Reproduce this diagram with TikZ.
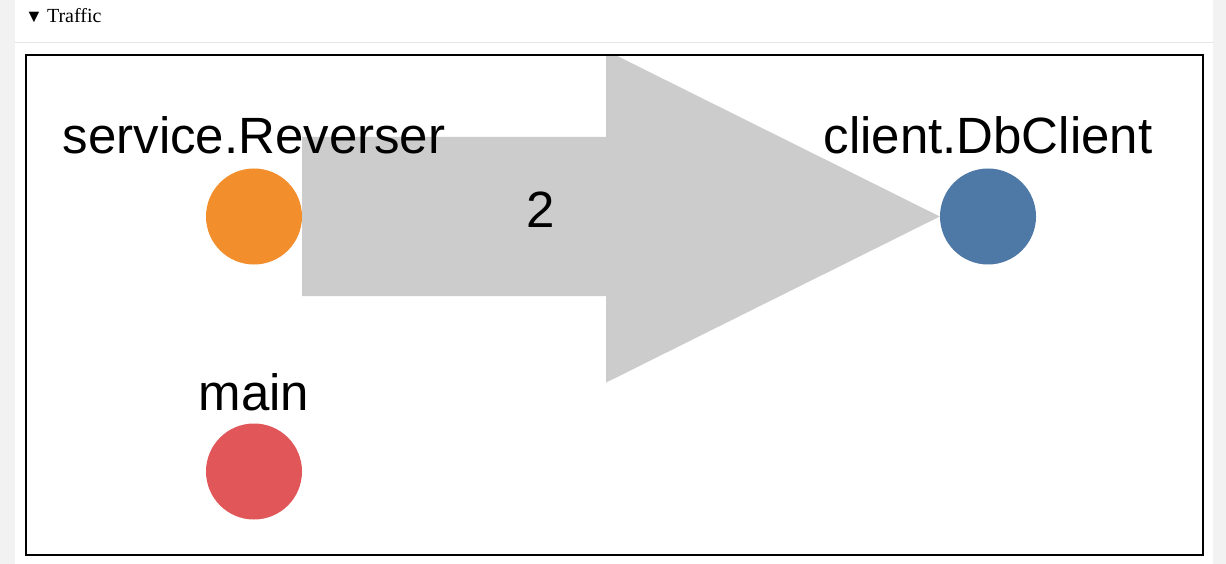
\documentclass[tikz,border=0pt]{standalone}
\usepackage{fontspec}
\setmainfont{Liberation Serif}
\newfontfamily\labelfont{Liberation Sans}
\usetikzlibrary{positioning,calc}
\definecolor{pagegray}{HTML}{F2F2F2}
\definecolor{rulegray}{HTML}{E6E6E6}
\definecolor{flowgray}{HTML}{CCCCCC}
\definecolor{svcorange}{HTML}{F28E2B}
\definecolor{clientblue}{HTML}{4E79A7}
\definecolor{mainred}{HTML}{E15759}
\tikzset{
  dot/.style={circle,inner sep=0pt,minimum size=96pt,draw=none},
  name label/.style={inner sep=0pt,font=\labelfont\fontsize{51}{60}\selectfont},
}
\begin{document}
\begin{tikzpicture}[x=1pt,y=-1pt]
  \useasboundingbox (0,0) rectangle (1226,564);
  \fill[pagegray] (0,0) rectangle (1226,564);
  \fill[white] (15,0) rectangle (1213,564);
  \draw[rulegray,line width=1pt] (15,43) -- (1213,43); % under the header
  \node[anchor=base west,inner sep=0pt,font=\fontsize{20}{22}\selectfont] (head) at (25,22.5) {{\fontsize{18}{20}\selectfont▼}\hspace{4pt}Traffic};

  % services
  \node[dot,fill=svcorange] (rev) at (254,216.5) {};
  \node[dot,fill=clientblue] (dbc) at (988,216.5) {};
  \node[dot,fill=mainred] (mainn) at (254,471.5) {};

  % traffic arrow, clipped by the frame
  \begin{scope}
    \clip (26,55) rectangle (1203,555);
    \fill[flowgray] ($(rev.east)+(0,-79.5)$) -- ($(rev.east)+(304,-79.5)$) -- ($(rev.east)+(304,-166)$)
      -- (dbc.west) -- ($(rev.east)+(304,166)$) -- ($(rev.east)+(304,79.5)$) -- ($(rev.east)+(0,79.5)$) -- cycle;
  \end{scope}
  \node[name label,anchor=base] (count) at (540.5,228) {2};

  % names above the dots
  \node[name label,above=14pt of rev] (revname) {service.Reverser};
  \node[name label,above=14pt of dbc] (dbcname) {client.DbClient};
  \node[name label,above=12pt of mainn] (mainname) {main};

  \draw[black,line width=1.4pt] (26,55) rectangle (1203,555);
\end{tikzpicture}
\end{document}
